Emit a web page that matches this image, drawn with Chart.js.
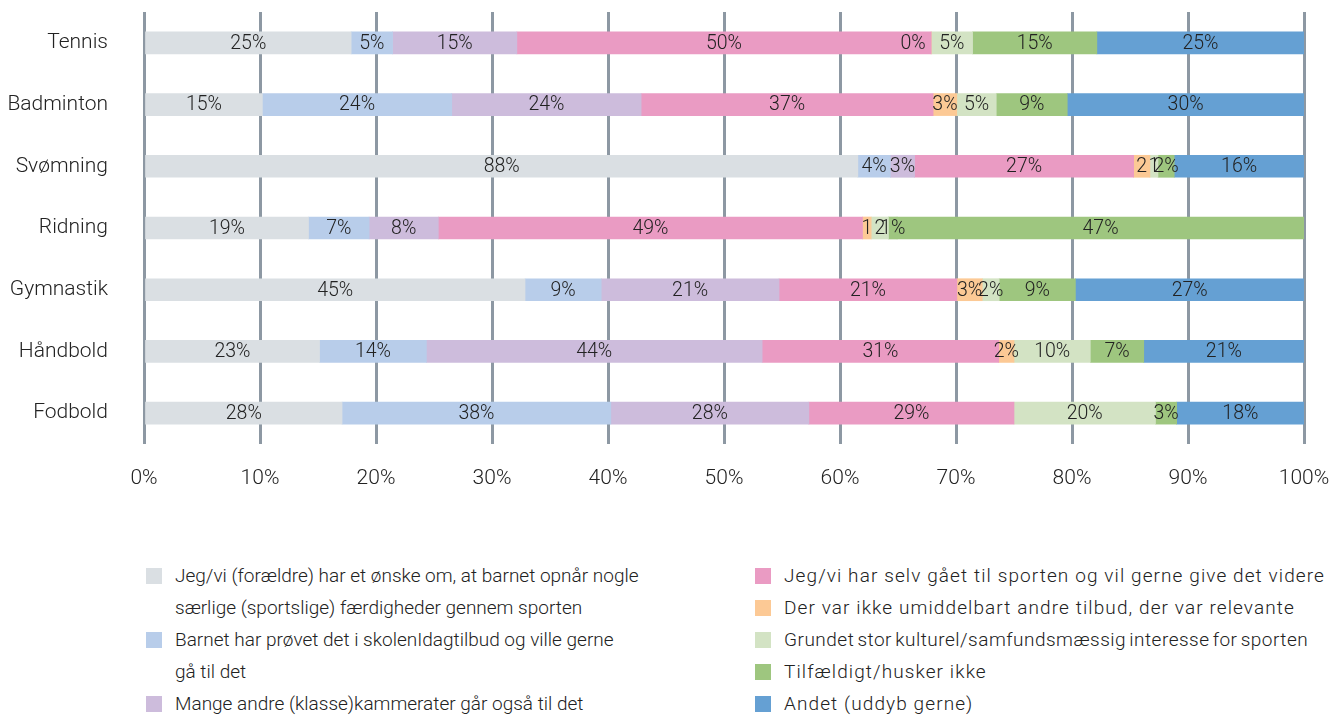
<!DOCTYPE html>
<html lang="da">
<head>
<meta charset="utf-8">
<title>Hvorfor valgte I sporten?</title>
<script src="https://cdn.jsdelivr.net/npm/chart.js@4.4.1/dist/chart.umd.min.js"></script>
<style>
  html, body { margin: 0; padding: 0; background: #fff; }
  body { width: 1341px; height: 715px; position: relative; overflow: hidden; font-family: Roboto, "Noto Sans", sans-serif; }
  #wrap { position: absolute; left: 0; top: 0; width: 1341px; height: 520px; }
  .legend { position: absolute; top: 560px; font-size: 19px; color: #222; font-weight: 300; }
  .legend .item { position: relative; padding-left: 29px; line-height: 32px; white-space: nowrap; }
  .legend .box { position: absolute; left: 0; top: 8px; width: 16px; height: 16px; }
  #legend2 { letter-spacing: 1.1px; }
  #legend2 .tight { letter-spacing: 0.5px; word-spacing: -2px; }
</style>
</head>
<body>
<div id="wrap"><canvas id="chart"></canvas></div>
<div class="legend" id="legend1" style="left:146px"></div>
<div class="legend" id="legend2" style="left:755px"></div>
<script>
// categories
const sports = ['Tennis', 'Badminton', 'Svømning', 'Ridning', 'Gymnastik', 'Håndbold', 'Fodbold'];

// series values (percent of answers, as printed on the bars)
const oenske       = [25, 15, 88, 19, 45, 23, 28];
const skolen       = [5, 24, 4, 7, 9, 14, 38];
const kammerater   = [15, 24, 3, 8, 21, 44, 28];
const selvGaaet    = [50, 37, 27, 49, 21, 31, 29];
const ingenTilbud  = [0, 3, 2, 1, 3, 2, null];
const kulturel     = [5, 5, 1, 2, 2, 10, 20];
const tilfaeldigt  = [15, 9, 2, 1, 9, 7, 3];
const andet        = [25, 30, 16, 47, 27, 21, 18];

// legend texts (line breaks as in the picture)
const seriesNames = [
  ['Jeg/vi (forældre) har et ønske om, at barnet opnår nogle', 'særlige (sportslige) færdigheder gennem sporten'],
  ['Barnet har prøvet det i skolenIdagtilbud og ville gerne', 'gå til det'],
  ['Mange andre (klasse)kammerater går også til det'],
  ['Jeg/vi har selv gået til sporten og vil gerne give det videre'],
  ['Der var ikke umiddelbart andre tilbud, der var relevante'],
  ['Grundet stor kulturel/samfundsmæssig interesse for sporten'],
  ['Tilfældigt/husker ikke'],
  ['Andet (uddyb gerne)']
];

// x axis ticks
const xTicks = [0, 10, 20, 30, 40, 50, 60, 70, 80, 90, 100];

// labels printed without the % sign: [series index, category index]
const shortLabels = [[4, 2], [5, 2], [4, 3], [5, 3]];

const colors = ['#dadfe3', '#b8cdea', '#cdbcdc', '#ea9bc3', '#fcc995', '#d3e3c4', '#9ec67f', '#65a0d3'];
const allSeries = [oenske, skolen, kammerater, selvGaaet, ingenTilbud, kulturel, tilfaeldigt, andet];

// each bar is scaled to 100 %
const rowSums = sports.map((s, i) => allSeries.reduce((a, ser) => a + (ser[i] || 0), 0));

const datasets = allSeries.map((ser, k) => {
  let bg = colors[k];
  if (k === 7) {
    // in the original the "Andet" part of Ridning is drawn in green
    bg = sports.map(s => s === 'Ridning' ? colors[6] : colors[7]);
  }
  return {
    label: seriesNames[k].join(' '),
    raw: ser,
    data: ser.map((v, i) => v === null ? null : v / rowSums[i] * 100),
    backgroundColor: bg,
    borderWidth: 0,
    barThickness: 22
  };
});

const barLabels = {
  id: 'barLabels',
  afterDatasetsDraw(chart) {
    const ctx = chart.ctx;
    ctx.save();
    ctx.font = '300 19.5px Roboto, "Noto Sans", sans-serif';
    ctx.fillStyle = '#222';
    ctx.textAlign = 'center';
    ctx.textBaseline = 'middle';
    chart.data.datasets.forEach((ds, k) => {
      const meta = chart.getDatasetMeta(k);
      meta.data.forEach((bar, i) => {
        const v = ds.raw[i];
        if (v === null || v === undefined) return;
        const short = shortLabels.some(p => p[0] === k && p[1] === i);
        let x = (bar.x + bar.base) / 2;
        if (v === 0) x -= 18;
        ctx.fillText(short ? String(v) : v + '%', x, bar.y + 1);
      });
    });
    ctx.restore();
  }
};

new Chart(document.getElementById('chart'), {
  type: 'bar',
  data: { labels: sports, datasets: datasets },
  plugins: [barLabels],
  options: {
    indexAxis: 'y',
    responsive: true,
    maintainAspectRatio: false,
    animation: false,
    layout: { padding: { top: 12, right: 37, left: 0, bottom: 0 } },
    plugins: { legend: { display: false }, tooltip: { enabled: false } },
    scales: {
      x: {
        stacked: true,
        min: 0,
        max: 100,
        afterBuildTicks(scale) { scale.ticks = xTicks.map(v => ({ value: v })); },
        ticks: {
          callback: v => v + '%',
          color: '#222',
          padding: 22,
          maxRotation: 0,
          font: { family: 'Roboto', size: 21, weight: 300 }
        },
        grid: { color: '#8d98a3', lineWidth: 3, drawTicks: false },
        border: { display: false },
        afterFit(scale) {
          scale.height = 76;
          scale.paddingLeft = 0;
          scale.paddingRight = 0;
        }
      },
      y: {
        stacked: true,
        ticks: {
          color: '#222',
          padding: 28,
          font: { family: 'Roboto', size: 21, weight: 300 }
        },
        grid: { display: false },
        border: { display: false },
        afterFit(scale) {
          scale.width = 144;
          scale.paddingTop = 0;
          scale.paddingBottom = 0;
        }
      }
    }
  }
});

// html legend in two columns
function addItem(target, k) {
  const item = document.createElement('div');
  item.className = 'item';
  if (k === 5) item.classList.add('tight');
  const box = document.createElement('span');
  box.className = 'box';
  box.style.background = colors[k];
  item.appendChild(box);
  seriesNames[k].forEach((line, j) => {
    if (j > 0) item.appendChild(document.createElement('br'));
    item.appendChild(document.createTextNode(line));
  });
  target.appendChild(item);
}
const col1 = document.getElementById('legend1');
const col2 = document.getElementById('legend2');
[0, 1, 2].forEach(k => addItem(col1, k));
[3, 4, 5, 6, 7].forEach(k => addItem(col2, k));
</script>
</body>
</html>
